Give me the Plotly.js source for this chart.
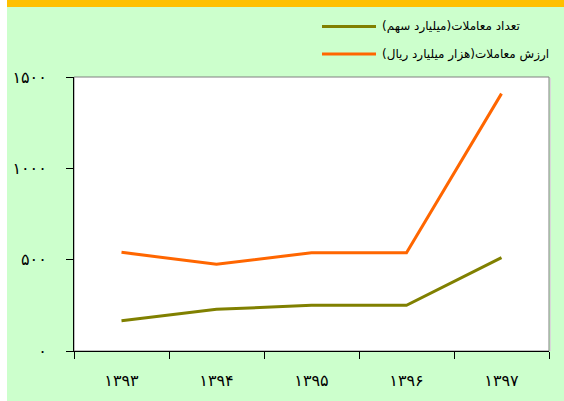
<!DOCTYPE html>
<html>
<head>
<meta charset="utf-8">
<script src="https://cdn.plot.ly/plotly-3.0.1.min.js"></script>
<style>
html,body{margin:0;padding:0;background:#ffffff;}
#wrap{position:absolute;left:0;top:0;width:564px;height:401px;}
#chart{width:564px;height:401px;}
</style>
</head>
<body>
<div id="wrap"><div id="chart"></div></div>
<script>
// Data
const categories = ["۱۳۹۳", "۱۳۹۴", "۱۳۹۵", "۱۳۹۶", "۱۳۹۷"];
const countSeriesName = "تعداد معاملات(میلیارد سهم)";
const countValues = [166, 228, 250, 250, 511];
const valueSeriesName = "ارزش معاملات(هزار میلیارد ریال)";
const valueValues = [540, 475, 538, 538, 1409];
const yTickValues = [0, 500, 1000, 1500];
const yTickLabels = ["۰", "۵۰۰", "۱۰۰۰", "۱۵۰۰"];

const W = 564, H = 401;
const L = 74, R = 15, T = 77, B = 50;
const pw = W - L - R, ph = H - T - B;
const px = x => (x - L) / pw;
const py = y => (H - B - y) / ph;

const traces = [
  {x: categories, y: countValues, name: countSeriesName, type: "scatter", mode: "lines",
   line: {color: "#808000", width: 3}, showlegend: false},
  {x: categories, y: valueValues, name: valueSeriesName, type: "scatter", mode: "lines",
   line: {color: "#FF6600", width: 3}, showlegend: false}
];

const legendItems = [
  {name: countSeriesName, color: "#808000", y: 26.5},
  {name: valueSeriesName, color: "#FF6600", y: 54}
];

const shapes = [
  // green canvas
  {type: "rect", xref: "paper", yref: "paper", x0: px(7), x1: px(564), y0: py(7), y1: py(401),
   fillcolor: "#CCFFCC", line: {width: 0}, layer: "below"},
  // top band
  {type: "rect", xref: "paper", yref: "paper", x0: px(7), x1: px(564), y0: py(0), y1: py(7),
   fillcolor: "#FFC000", line: {width: 0}, layer: "below"},
  // plot area
  {type: "rect", xref: "paper", yref: "paper", x0: 0, x1: 1, y0: 0, y1: 1,
   fillcolor: "#ffffff", line: {color: "#808080", width: 1}, layer: "below"},
  // slight shadow on right
  {type: "line", xref: "paper", yref: "paper", x0: px(550.5), x1: px(550.5), y0: 0, y1: py(78),
   line: {color: "#d8d8d8", width: 1}, layer: "below"}
];
const annotations = [];
legendItems.forEach(it => {
  shapes.push({type: "line", xref: "paper", yref: "paper", x0: px(322), x1: px(376),
    y0: py(it.y), y1: py(it.y), line: {color: it.color, width: 3}});
  annotations.push({xref: "paper", yref: "paper", x: px(380), y: py(it.y), xanchor: "left",
    yanchor: "middle", text: it.name, showarrow: false,
    font: {family: "DejaVu Sans", size: 12, color: "#000000"}});
});

const layout = {
  width: W, height: H,
  margin: {l: L, r: R, t: T, b: B, pad: 0},
  paper_bgcolor: "rgba(0,0,0,0)",
  plot_bgcolor: "rgba(0,0,0,0)",
  showlegend: false,
  xaxis: {
    type: "category",
    range: [-0.5, 4.5],
    showline: true, linecolor: "#000000", linewidth: 1,
    showgrid: false, zeroline: false,
    ticks: "outside", ticklen: 7, tickcolor: "#000000", tickwidth: 1,
    tickson: "boundaries",
    tickfont: {family: "DejaVu Sans", size: 16, color: "#000000"},
    ticklabelstandoff: 15
  },
  yaxis: {
    range: [0, 1500],
    tickvals: yTickValues, ticktext: yTickLabels,
    showline: true, linecolor: "#000000", linewidth: 1,
    showgrid: false, zeroline: false,
    ticks: "outside", ticklen: 7, tickcolor: "#000000", tickwidth: 1,
    tickfont: {family: "DejaVu Sans", size: 16, color: "#000000"},
    ticklabelstandoff: 16
  },
  shapes: shapes,
  annotations: annotations
};

Plotly.newPlot("chart", traces, layout, {displayModeBar: false, staticPlot: true});
</script>
</body>
</html>
